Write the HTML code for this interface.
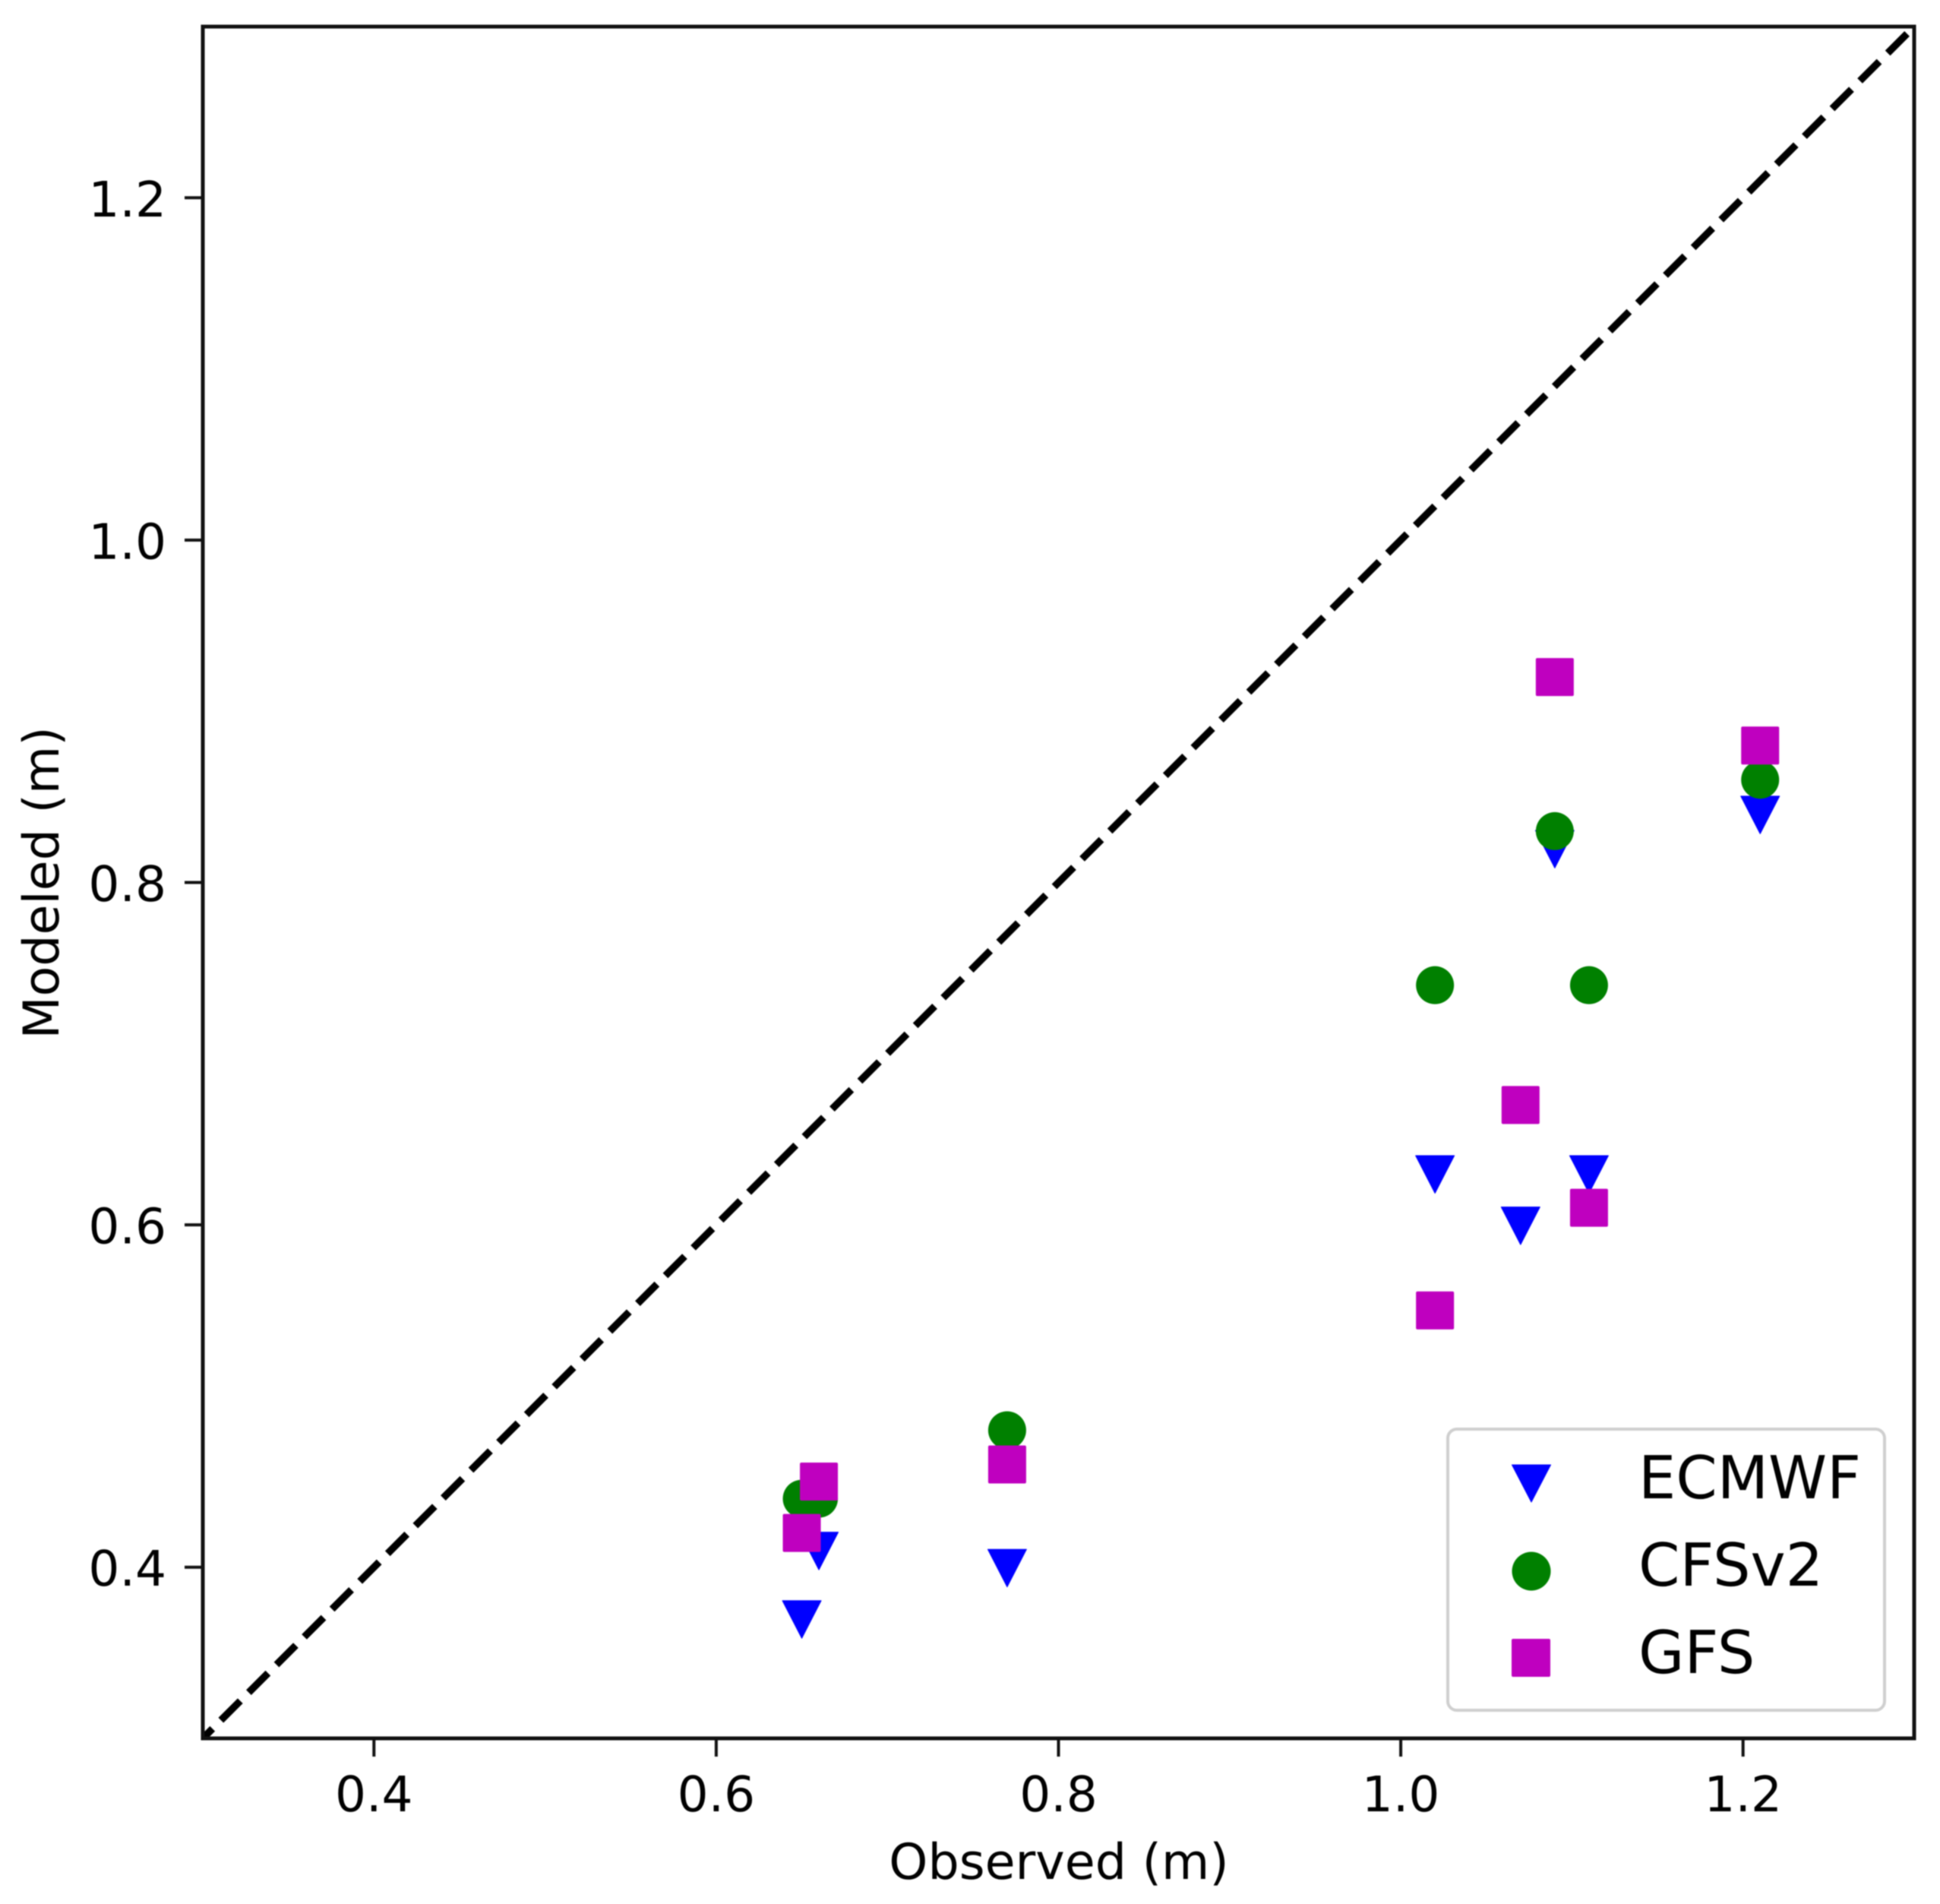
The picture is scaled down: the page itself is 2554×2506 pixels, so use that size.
<!DOCTYPE html>
<html lang="en">
<head>
<meta charset="utf-8">
<title>Observed vs Modeled</title>
<style>
  html, body { margin: 0; padding: 0; background: #fff; }
  svg { display: block; font-family: "DejaVu Sans", "Liberation Sans", sans-serif; text-rendering: geometricPrecision; filter: blur(0.7px); }
</style>
</head>
<body>
<svg id="chart" xmlns="http://www.w3.org/2000/svg" width="2554" height="2506" viewBox="0 0 2554 2506">
  <defs>
    <clipPath id="plot-clip"><rect x="267" y="35" width="2253" height="2253"/></clipPath>
  </defs>
  <rect x="0" y="0" width="2554" height="2506" fill="#ffffff"/>
  <g id="marks" clip-path="url(#plot-clip)"></g>
  <g id="ticks"></g>
  <rect x="267" y="35" width="2253" height="2253" fill="none" stroke="#111" stroke-width="5"/>
  <text x="1394" y="2473" font-size="65" text-anchor="middle" fill="#000">Observed (m)</text>
  <text transform="translate(77 1162) rotate(-90)" x="0" y="0" font-size="65" text-anchor="middle" fill="#000">Modeled (m)</text>
  <g>
    <rect x="1906" y="1881" width="575" height="370" rx="12" ry="12" fill="#fff" stroke="#cfcfcf" stroke-width="4"/>
    <g>
      <polygon points="1990.5,1928 2041.5,1928 2016,1977" fill="#0000ff" stroke="#0000ff" stroke-width="1" stroke-linejoin="round"/>
      <text x="2157" y="1972" font-size="78" fill="#000">ECMWF</text>
    </g>
    <g>
      <circle cx="2016" cy="2068" r="25.5" fill="#008000"/>
      <text x="2157" y="2087" font-size="78" fill="#000">CFSv2</text>
    </g>
    <g>
      <rect x="1990" y="2157" width="51" height="50" rx="2" ry="2" fill="#bf00bf"/>
      <text x="2157" y="2202" font-size="78" fill="#000">GFS</text>
    </g>
  </g>
</svg>
<script>
const xLimits = [0.3, 1.3];
const yLimits = [0.3, 1.3];
const xTickValues = [0.4, 0.6, 0.8, 1.0, 1.2];
const yTickValues = [0.4, 0.6, 0.8, 1.0, 1.2];
const xTickLabels = ["0.4", "0.6", "0.8", "1.0", "1.2"];
const yTickLabels = ["0.4", "0.6", "0.8", "1.0", "1.2"];
const referenceLine = [0.3, 1.3];
const ecmwfObserved = [0.65, 0.66, 0.77, 1.02, 1.07, 1.09, 1.11, 1.21];
const ecmwfModeled = [0.37, 0.41, 0.40, 0.63, 0.60, 0.82, 0.63, 0.84];
const cfsObserved = [0.65, 0.66, 0.77, 1.02, 1.09, 1.11, 1.21];
const cfsModeled = [0.44, 0.44, 0.48, 0.74, 0.83, 0.74, 0.86];
const gfsObserved = [0.65, 0.66, 0.77, 1.02, 1.07, 1.09, 1.11, 1.21];
const gfsModeled = [0.42, 0.45, 0.46, 0.55, 0.67, 0.92, 0.61, 0.88];

const NS = 'http://www.w3.org/2000/svg';
const PLOT_LEFT = 267, PLOT_RIGHT = 2520, PLOT_TOP = 35, PLOT_BOTTOM = 2288;

function xScale(v) {
  return PLOT_LEFT + (v - xLimits[0]) / (xLimits[1] - xLimits[0]) * (PLOT_RIGHT - PLOT_LEFT);
}
function yScale(v) {
  return PLOT_BOTTOM - (v - yLimits[0]) / (yLimits[1] - yLimits[0]) * (PLOT_BOTTOM - PLOT_TOP);
}
function make(tag, parent, attrs) {
  const el = document.createElementNS(NS, tag);
  for (const key in attrs) el.setAttribute(key, attrs[key]);
  parent.appendChild(el);
  return el;
}

const ticksGroup = document.getElementById('ticks');
const marksGroup = document.getElementById('marks');

xTickValues.forEach(function (value, i) {
  const px = xScale(value);
  const tick = make('line', ticksGroup, { x1: px, x2: px, y1: PLOT_BOTTOM, y2: PLOT_BOTTOM + 24, stroke: '#111', 'stroke-width': 4 });
  
  
  const label = make('text', ticksGroup, { x: px, y: PLOT_BOTTOM + 96, 'font-size': 64.5, 'text-anchor': 'middle', fill: '#000' });
  label.textContent = xTickLabels[i];
  
  
});

yTickValues.forEach(function (value, i) {
  const py = yScale(value);
  const tick = make('line', ticksGroup, { x1: PLOT_LEFT - 24, x2: PLOT_LEFT, y1: py, y2: py, stroke: '#111', 'stroke-width': 4 });
  
  
  const label = make('text', ticksGroup, { x: 219, y: py + 24.5, 'font-size': 64.5, 'text-anchor': 'end', fill: '#000' });
  label.textContent = yTickLabels[i];
  
  
});

const refLine = make('line', marksGroup, {
  x1: xScale(referenceLine[0]), y1: yScale(referenceLine[0]),
  x2: xScale(referenceLine[1]), y2: yScale(referenceLine[1]),
  stroke: '#000', 'stroke-width': 9.5, 'stroke-dasharray': '36 15.72', 'stroke-dashoffset': 18
});



ecmwfObserved.forEach(function (value, i) {
  const cx = xScale(value);
  const cy = yScale(ecmwfModeled[i]);
  const points = [[cx - 25.5, cy - 23.5], [cx + 25.5, cy - 23.5], [cx, cy + 26]].map(function (p) { return p.join(','); }).join(' ');
  const mark = make('polygon', marksGroup, { points: points, fill: '#0000ff', stroke: '#0000ff', 'stroke-width': 1, 'stroke-linejoin': 'round' });
  
  
});

cfsObserved.forEach(function (value, i) {
  const mark = make('circle', marksGroup, { cx: xScale(value), cy: yScale(cfsModeled[i]), r: 25, fill: '#008000' });
  
  
});

gfsObserved.forEach(function (value, i) {
  const mark = make('rect', marksGroup, { x: xScale(value) - 25, y: yScale(gfsModeled[i]) - 25, width: 50, height: 50, rx: 2, ry: 2, fill: '#bf00bf' });
  
  
});
</script>
</body>
</html>
